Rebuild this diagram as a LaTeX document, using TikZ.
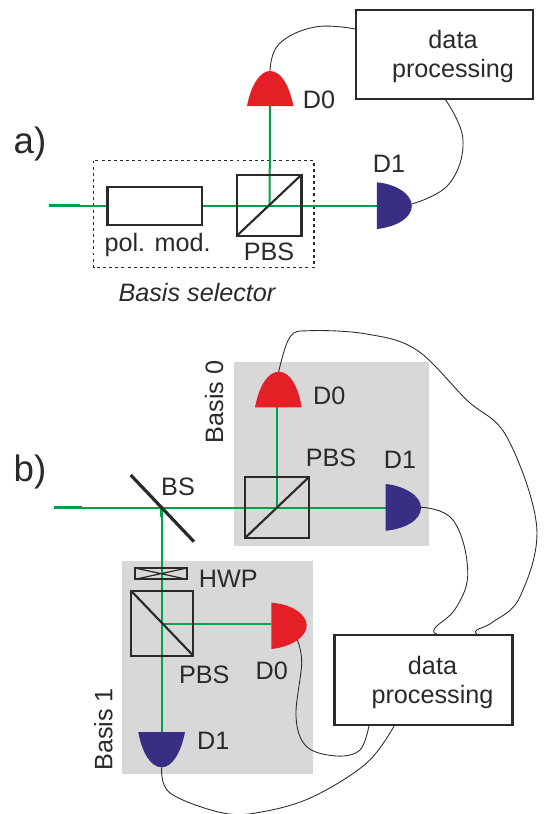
\documentclass[tikz,border=0pt]{standalone}
\usepackage{fontspec}
\setmainfont{Liberation Sans}
\definecolor{beamg}{HTML}{00A14B}
\definecolor{detred}{HTML}{E41F26}
\definecolor{detblue}{HTML}{382F85}
\definecolor{panel}{HTML}{D8D8D8}
\definecolor{ink}{HTML}{2B2A29}
\tikzset{
  x=0.75pt,y=-0.75pt,
  every node/.style={text=ink,inner sep=0pt,outer sep=0pt},
  lab/.style={font=\fontsize{18.9}{21.75}\selectfont},
  biglab/.style={font=\fontsize{27.5}{30}\selectfont},
  optic/.style={draw=ink,line width=1.6pt,fill=none,inner sep=0pt},
  procbox/.style={draw=ink,line width=1.6pt,fill=white,inner sep=0pt},
  proctext/.style={align=center,font=\fontsize{18.9}{21.75}\selectfont},
  beam/.style={draw=beamg,line width=1.5pt},
  beamthick/.style={draw=beamg,line width=2pt},
  wire/.style={draw=ink,line width=0.65pt},
  greypanel/.style={fill=panel,draw=none},
}
\newcommand{\optbox}[5]{% name, x0,y0,x1,y1
  \node[optic,minimum width=#4*0.75pt-#2*0.75pt-1.6pt,minimum height=#5*0.75pt-#3*0.75pt-1.6pt] (#1) at ({(#2+#4)/2},{(#3+#5)/2}) {};
}
\begin{document}
\begin{tikzpicture}
\useasboundingbox (0,0) rectangle (549,814);
% --- panels
\fill[greypanel] (234,362) rectangle (429,546);
\fill[greypanel] (122,561) rectangle (313,774);
\draw[ink,line width=0.9pt,dash pattern=on 2.2pt off 2.4pt] (93.5,160.5) rectangle (314,267.5);
% --- a) coordinates
\coordinate (aD0top) at (270,71);
\coordinate (aD0base) at (270,106);
\coordinate (aD1flat) at (376.8,205.7);
\coordinate (aD1tip) at (411.8,204);
\coordinate (aStart) at (49,205.7);
\coordinate (aKnee) at (80,205.7);
\coordinate (aSplit) at (269.6,205.7);
\coordinate (aBoxL) at (355.5,29);
\coordinate (aBoxB) at (445.4,99.5);
% beams a
\draw[beamthick] (aStart) -- (aKnee);
\draw[beam] (aKnee) -- (aD1flat);
\draw[beam] (aD0base) -- (aSplit);
% detectors a
\fill[detred] (247,106) .. controls (251,85) and (260,71) .. (aD0top) .. controls (281,71) and (289,85) .. (293.5,106) -- cycle;
\fill[detblue] (376.8,182.3) .. controls (396,184) and (411.8,194) .. (411.8,206) .. controls (411.8,218) and (396,227) .. (376.8,229) -- cycle;
% boxes a
\node[procbox,minimum width=97pt*0.75-1.6pt,minimum height=39.7pt*0.75-1.6pt] (polmod) at (154.9,205.85) {};
\optbox{pbsa}{235.6}{173.7}{302.5}{237}
\draw[ink,line width=1.6pt] (pbsa.south west) -- (pbsa.north east);
\node[procbox,minimum width=177pt*0.75,minimum height=89pt*0.75] (dpa) at (444.7,54.2) {};
\node[proctext] (dpatext) at (453,56) {data\\processing};
% wires a
\draw[wire] plot[smooth,tension=0.7] coordinates {(aD0top) (279,44) (315,27) (aBoxL)};
\draw[wire] plot[smooth,tension=0.7] coordinates {(aBoxB) (463,140) (449,184) (aD1tip)};
% labels a
\node[biglab] (la) at (30,144) {a)};
\node[lab] (lad0) at (319,100) {D0};
\node[lab] (lad1) at (389,164) {D1};
\node[lab] (lapm) at (157.6,245) {pol. mod.};
\node[lab] (lapbs) at (269,252) {PBS};
\node[lab,font=\fontsize{18.9}{21.75}\selectfont\itshape] (labs) at (197,292) {Basis selector};
% --- b) coordinates
\coordinate (bStart) at (54,507.7);
\coordinate (bKnee) at (81.7,507.7);
\coordinate (bSplit) at (161.5,507.7);
\coordinate (bStub) at (161.5,517);
\coordinate (bD0top) at (278.7,371.7);
\coordinate (bD0base) at (277.3,407.3);
\coordinate (bD1flat) at (385.7,507.7);
\coordinate (bD1tip) at (421,507.3);
\coordinate (cCross) at (277.3,507.7);
\coordinate (cD0tip) at (297.3,640);
\coordinate (cD0flat) at (271.3,623.7);
\coordinate (cSplit) at (161.5,623.7);
\coordinate (cD1top) at (161.5,732);
\coordinate (cD1tip) at (161.7,767.3);
\coordinate (bBoxA) at (476.7,634);
\coordinate (bBoxB) at (437,634);
\coordinate (bBoxC) at (369,725.7);
\coordinate (bBoxD) at (394.3,725.7);
% beams b
\draw[beamthick] (bStart) -- (bKnee);
\draw[beam] (bKnee) -- (bD1flat);
\draw[beam] (bD0base) -- (cCross);
\draw[beam] (bSplit) -- (cD1top);
\draw[beamthick] (bSplit) -- (bStub);
\draw[beam] (cSplit) -- (cD0flat);
% detectors b
\fill[detred] (255,407.3) .. controls (259,386) and (268,371.7) .. (bD0top) .. controls (290,371.7) and (298,386) .. (301.7,407.3) -- cycle;
\fill[detblue] (385.7,484) .. controls (405,486) and (421,496) .. (421,507.7) .. controls (421,520) and (405,529) .. (385.7,530.7) -- cycle;
\fill[detred] (271.3,602.7) .. controls (291,604) and (306.7,614) .. (306.7,625.3) .. controls (306.7,637) and (291,647) .. (271.3,649) -- cycle;
\fill[detblue] (138.3,732) -- (185,732) .. controls (181,753) and (172,767.3) .. (cD1tip) .. controls (151,767.3) and (142,753) .. (138.3,732) -- cycle;
% optics b
\optbox{pbsb}{243.7}{475.7}{310.3}{539.3}
\draw[ink,line width=1.6pt] (pbsb.south west) -- (pbsb.north east);
\optbox{pbsc}{130.3}{590}{194.3}{656.7}
\draw[ink,line width=1.6pt] (pbsc.north west) -- (pbsc.south east);
\optbox{hwp}{134.3}{567}{187.7}{580.3}
\draw[ink,line width=0.9pt] (hwp.north west) -- (hwp.south east) (hwp.south west) -- (hwp.north east);
\coordinate (bsA) at (130.7,475);
\coordinate (bsB) at (194,541.7);
\draw[ink,line width=2.4pt] (bsA) -- (bsB);
\node[procbox,minimum width=178pt*0.75,minimum height=90pt*0.75] (dpb) at (423.5,680.4) {};
\node[proctext] (dpbtext) at (432.5,682) {data\\processing};
% wires b
\draw[wire] plot[smooth,tension=0.6] coordinates {(bD0top) (290,337) (310,330.7) (366.7,334) (416.7,350) (466.7,400) (506.7,436.7) (536.7,526.7) (520,596.7) (493.3,621.7) (476.7,630) (bBoxA)};
\draw[wire] plot[smooth,tension=0.7] coordinates {(bD1tip) (453,520) (467.7,570) (456.7,606.7) (435,628) (bBoxB)};
\draw[wire] plot[smooth,tension=0.6] coordinates {(cD0tip) (301.7,663) (296,716.7) (306.7,746.7) (336.7,756) (360,750) (bBoxC)};
\draw[wire] plot[smooth,tension=0.6] coordinates {(cD1tip) (170,793) (223,813) (263,811.7) (313,796.7) (366.7,763) (bBoxD)};
% labels b
\node[biglab] (lb) at (30,472) {b)};
\node[lab] (lbs) at (178,487) {BS};
\node[lab] (lb0d0) at (329.3,396) {D0};
\node[lab] (lb0p) at (331,457.7) {PBS};
\node[lab] (lb0d1) at (400,460) {D1};
\node[lab,rotate=90] (lb0) at (214,401.7) {Basis 0};
\node[lab] (lhwp) at (228.3,579) {HWP};
\node[lab] (lb1p) at (204.3,674.7) {PBS};
\node[lab] (lb1d0) at (271.7,670.7) {D0};
\node[lab] (lb1d1) at (213.3,740.7) {D1};
\node[lab,rotate=90] (lb1) at (103.3,729.3) {Basis 1};
\end{tikzpicture}
\end{document}
